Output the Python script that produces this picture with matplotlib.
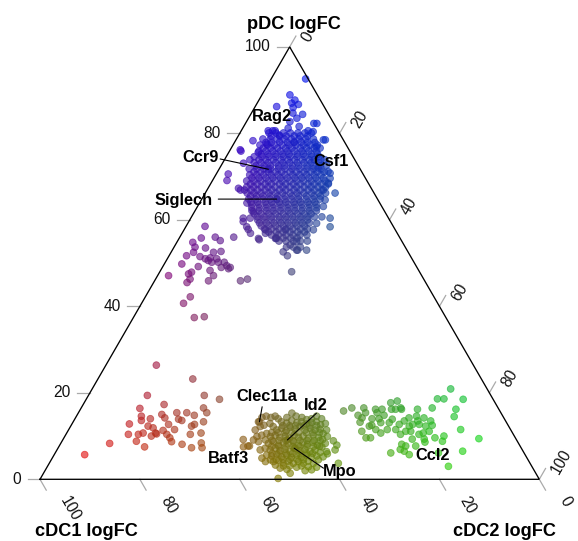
import numpy as np
import matplotlib
matplotlib.use("Agg")
import matplotlib.pyplot as plt

plt.rcParams['font.family'] = ['Liberation Sans', 'DejaVu Sans']

# ---------------- data: (cDC1 logFC, cDC2 logFC, pDC logFC) per gene ----------------
red_genes = [
    (88.2, 6.1, 5.7), (81.9, 9.8, 8.3), (68.8, 11.8, 19.4), (71.8, 11.8, 16.4), (66.5, 16.2, 17.3),
    (57.4, 23.2, 19.4), (59.0, 24.5, 16.5), (75.7, 11.5, 12.8), (72.4, 13.0, 14.6), (72.9, 13.5, 13.6),
    (70.9, 15.1, 14.0), (72.2, 15.5, 12.3), (71.4, 16.7, 11.9), (77.1, 12.5, 10.4), (75.1, 14.5, 10.4),
    (74.0, 15.3, 10.7), (76.3, 14.9, 8.8), (75.3, 17.2, 7.5), (72.7, 17.3, 10.0), (71.4, 18.1, 10.5),
    (68.1, 16.9, 15.0), (67.9, 17.9, 14.2), (67.9, 19.4, 12.7), (69.7, 19.0, 11.3), (69.4, 20.2, 10.4),
    (69.2, 21.2, 9.6), (69.3, 22.0, 8.7), (64.9, 19.7, 15.4), (65.3, 20.8, 13.9), (64.8, 21.6, 13.6),
    (62.9, 21.7, 15.4), (61.7, 23.5, 14.8), (58.9, 25.7, 15.4), (60.6, 26.1, 13.3), (63.5, 24.2, 12.3),
    (62.7, 24.6, 12.7), (64.7, 24.9, 10.4), (62.4, 26.9, 10.7), (67.5, 24.4, 8.1), (66.0, 26.7, 7.3),
    (63.5, 28.1, 8.4), (63.9, 28.8, 7.3), (67.3, 21.2, 11.5), (71.5, 17.8, 10.7), (63.5, 10.1, 26.4),
    (57.8, 19.0, 23.2), (54.8, 26.7, 18.5),
]

green_genes = [
    (31.3, 52.9, 15.8), (29.3, 54.2, 16.5), (28.9, 56.3, 14.8), (28.4, 57.4, 14.2), (26.9, 56.6, 16.5),
    (29.3, 57.5, 13.2), (30.0, 58.9, 11.1), (29.9, 60.5, 9.6), (29.0, 61.4, 9.6), (27.3, 60.2, 12.5),
    (26.5, 59.5, 14.0), (24.7, 59.1, 16.2), (24.8, 59.8, 15.4), (23.4, 60.4, 16.2), (25.1, 60.9, 14.0),
    (23.7, 61.5, 14.8), (20.9, 61.4, 17.7), (19.4, 62.5, 18.1), (21.5, 62.3, 16.2), (20.7, 63.1, 16.2),
    (19.5, 64.3, 16.2), (23.5, 63.4, 13.1), (22.5, 63.6, 13.9), (24.7, 63.8, 11.5), (23.0, 65.5, 11.5),
    (22.6, 67.0, 10.4), (21.7, 65.6, 12.7), (20.3, 66.2, 13.5), (19.0, 66.8, 14.2), (16.3, 67.5, 16.2),
    (17.3, 68.1, 14.6), (19.0, 68.3, 12.7), (20.2, 68.7, 11.1), (17.7, 69.6, 12.7), (16.0, 69.8, 14.2),
    (16.6, 71.1, 12.3), (17.9, 71.4, 10.7), (18.9, 70.7, 10.4), (18.4, 72.3, 9.3), (16.5, 72.4, 11.1),
    (15.2, 72.3, 12.5), (16.1, 74.3, 9.6), (13.2, 70.3, 16.5), (11.1, 70.3, 18.6), (9.8, 71.6, 18.6),
    (7.3, 71.8, 20.9), (6.0, 75.5, 18.5), (8.6, 75.2, 16.2), (9.8, 75.7, 14.5), (10.0, 78.5, 11.5),
    (7.4, 83.2, 9.4), (14.1, 75.9, 10.0), (15.0, 76.2, 8.8), (12.1, 81.4, 6.5), (16.7, 80.3, 3.0),
    (17.2, 76.9, 6.1), (23.2, 71.1, 5.7), (23.8, 69.7, 6.5), (24.4, 68.7, 6.9), (23.5, 68.4, 8.1),
    (22.9, 69.4, 7.7), (26.7, 67.2, 6.1), (25.2, 61.7, 13.1), (27.0, 61.5, 11.5), (26.4, 62.9, 10.7),
    (27.1, 57.5, 15.4), (27.9, 59.8, 12.3), (19.5, 64.0, 16.5), (17.6, 68.9, 13.5), (19.9, 67.8, 12.3),
    (21.2, 67.7, 11.1), (20.8, 69.9, 9.3), (20.9, 71.4, 7.7), (15.0, 71.5, 13.5),
]

purple_genes = [
    (37.7, 3.8, 58.5), (39.8, 4.4, 55.8), (42.0, 3.2, 54.8), (42.1, 4.2, 53.7), (43.0, 4.5, 52.5),
    (44.8, 3.5, 51.7), (46.7, 3.5, 49.8), (42.2, 6.3, 51.5), (41.4, 7.6, 51.0), (41.0, 8.4, 50.6),
    (40.3, 8.5, 51.2), (39.0, 8.5, 52.5), (36.9, 7.1, 56.0), (36.3, 8.5, 55.2), (37.4, 9.9, 52.7),
    (39.1, 9.9, 51.0), (39.2, 10.6, 50.2), (38.0, 11.8, 50.2), (37.9, 12.7, 49.4), (37.4, 13.6, 49.0),
    (37.9, 13.4, 48.7), (41.8, 9.9, 48.3), (41.7, 11.2, 47.1), (43.3, 10.8, 45.9), (43.7, 7.1, 49.2),
    (45.7, 6.4, 47.9), (46.5, 6.0, 47.5), (46.8, 6.9, 46.3), (47.8, 6.7, 45.5), (50.7, 2.2, 47.1),
    (36.9, 17.2, 45.9), (35.3, 18.4, 46.3), (48.8, 9.0, 42.2), (50.9, 8.4, 40.7), (50.4, 12.2, 37.4),
    (48.3, 14.1, 37.6), (40.1, 6.4, 53.5), (40.5, 9.3, 50.2), (39.2, 11.8, 49.0), (33.2, 10.8, 56.0),
]

olive_genes = [
    (49.6, 37.1, 13.3), (48.4, 37.3, 14.3), (47.4, 38.0, 14.6), (46.6, 39.1, 14.3), (45.6, 39.8, 14.6),
    (45.3, 40.7, 14.0), (49.8, 38.0, 12.2), (51.2, 37.4, 11.4), (48.9, 38.6, 12.5), (47.5, 39.6, 12.9),
    (47.2, 40.6, 12.2), (51.6, 38.5, 9.9), (50.5, 39.3, 10.2), (52.7, 38.2, 9.1), (51.9, 39.4, 8.7),
    (49.3, 40.1, 10.6), (50.3, 40.6, 9.1), (54.7, 36.1, 9.2), (54.2, 38.1, 7.7), (55.5, 37.0, 7.5),
    (52.5, 40.7, 6.8), (53.1, 42.0, 4.9), (52.8, 43.1, 4.1), (51.6, 43.9, 4.5), (51.2, 45.5, 3.3),
    (50.6, 46.8, 2.6), (49.4, 48.3, 2.3), (49.2, 49.4, 1.4), (52.2, 47.6, 0.2), (43.4, 42.3, 14.3),
    (41.9, 42.8, 15.3), (41.4, 44.0, 14.6), (40.4, 45.3, 14.3), (39.7, 46.5, 13.8), (38.6, 47.4, 14.0),
    (37.3, 48.1, 14.6), (36.6, 49.4, 14.0), (36.4, 50.7, 12.9), (36.9, 51.7, 11.4), (37.5, 52.6, 9.9),
    (38.7, 53.0, 8.3), (39.8, 52.7, 7.5), (39.4, 54.2, 6.4), (40.7, 54.1, 5.2), (42.0, 53.5, 4.5),
    (43.4, 52.9, 3.7), (44.8, 52.3, 2.9), (45.9, 52.1, 2.0), (44.5, 53.3, 2.2), (43.2, 54.0, 2.8),
    (36.8, 54.3, 8.9), (37.5, 55.7, 6.8), (38.4, 57.9, 3.7), (39.5, 54.6, 5.9), (36.6, 55.5, 7.9),
    # dense core
    (45.0, 41.7, 13.3), (44.1, 42.9, 13.0), (42.8, 43.6, 13.6), (42.0, 44.9, 13.1), (41.0, 45.7, 13.3),
    (40.2, 47.0, 12.8), (39.0, 47.9, 13.1), (38.0, 48.7, 13.3), (37.5, 49.9, 12.6),
    (46.9, 41.7, 11.4), (45.7, 42.5, 11.8), (45.1, 43.7, 11.2), (43.9, 44.1, 12.0), (43.1, 45.3, 11.6),
    (41.8, 46.0, 12.2), (41.2, 47.4, 11.4), (40.0, 48.2, 11.8), (39.2, 49.4, 11.4), (38.1, 50.3, 11.6),
    (38.0, 51.4, 10.6),
    (48.9, 41.2, 9.9), (47.8, 42.0, 10.2), (47.1, 43.2, 9.7), (45.9, 44.1, 10.0), (45.3, 45.2, 9.5),
    (44.0, 45.8, 10.2), (43.4, 46.9, 9.7), (42.3, 47.7, 10.0), (41.5, 49.0, 9.5), (40.2, 49.6, 10.2),
    (39.4, 50.9, 9.7), (38.8, 52.0, 9.2),
    (50.1, 41.6, 8.3), (48.9, 42.4, 8.7), (48.3, 43.8, 7.9), (47.0, 44.5, 8.5), (46.2, 45.6, 8.2),
    (44.9, 46.4, 8.7), (44.3, 47.8, 7.9), (43.1, 48.4, 8.5), (42.4, 49.5, 8.1), (41.1, 50.4, 8.5),
    (40.5, 51.6, 7.9),
    (51.3, 41.5, 7.2), (50.5, 42.7, 6.8), (49.3, 43.5, 7.2), (48.6, 44.8, 6.6), (47.5, 45.6, 6.9),
    (46.7, 46.9, 6.4), (45.3, 47.5, 7.2), (44.6, 48.8, 6.6), (43.5, 49.6, 6.9), (42.7, 50.9, 6.4),
    (41.5, 51.7, 6.8), (40.8, 53.0, 6.2),
    (51.8, 42.6, 5.6), (50.9, 43.7, 5.4), (49.7, 44.5, 5.8), (49.0, 45.8, 5.2), (47.8, 46.6, 5.6),
    (47.1, 47.8, 5.1), (45.8, 48.6, 5.6), (45.1, 49.8, 5.1), (43.8, 50.6, 5.6), (43.1, 51.8, 5.1),
    (41.9, 52.7, 5.4),
    (51.2, 44.7, 4.1), (50.1, 45.6, 4.3), (49.4, 46.8, 3.8), (48.2, 47.6, 4.2), (47.4, 48.9, 3.7),
    (46.2, 49.7, 4.1), (45.4, 50.9, 3.7), (44.2, 51.6, 4.2),
    (49.7, 47.2, 3.1), (48.4, 48.5, 3.1), (47.2, 50.0, 2.8), (46.1, 50.8, 3.1),
    (45.2, 42.4, 12.4), (43.8, 43.8, 12.4), (42.6, 45.0, 12.4), (41.0, 46.6, 12.4), (39.8, 47.8, 12.4),
    (38.4, 49.2, 12.4),
    (48.2, 41.0, 10.8), (46.9, 42.3, 10.8), (45.5, 43.7, 10.8), (44.1, 45.1, 10.8), (42.8, 46.4, 10.8),
    (41.3, 47.9, 10.8), (40.0, 49.2, 10.8), (38.6, 50.6, 10.8),
    (49.0, 42.0, 9.0), (47.6, 43.4, 9.0), (46.2, 44.8, 9.0), (44.8, 46.2, 9.0), (43.4, 47.6, 9.0),
    (42.0, 49.0, 9.0), (40.6, 50.4, 9.0), (39.4, 51.6, 9.0),
    (49.8, 42.6, 7.6), (48.4, 44.0, 7.6), (47.0, 45.4, 7.6), (45.6, 46.8, 7.6), (44.2, 48.2, 7.6),
    (42.8, 49.6, 7.6), (41.4, 51.0, 7.6), (40.2, 52.2, 7.6),
    (50.5, 43.5, 6.0), (49.1, 44.9, 6.0), (47.7, 46.3, 6.0), (46.4, 47.6, 6.0), (45.0, 49.0, 6.0),
    (43.6, 50.4, 6.0), (42.4, 51.6, 6.0),
    (50.4, 45.0, 4.6), (49.0, 46.4, 4.6), (47.6, 47.8, 4.6), (46.2, 49.2, 4.6), (44.9, 50.5, 4.6),
]

blue_edge_genes = [
    (0.5, 6.9, 92.6), (5.5, 5.6, 88.9), (5.1, 7.2, 87.7), (6.1, 6.9, 87.0), (4.9, 8.4, 86.7),
    (6.3, 7.7, 86.0), (5.2, 10.4, 84.4), (9.5, 4.3, 86.2), (7.0, 8.3, 84.7), (6.8, 9.7, 83.5),
    (8.6, 8.7, 82.7), (4.0, 13.7, 82.3), (14.0, 5.4, 80.6), (13.1, 6.3, 80.6), (12.3, 8.1, 79.6),
    (9.7, 9.1, 81.2), (7.3, 11.1, 81.6), (6.0, 13.4, 80.6), (18.2, 3.5, 78.3), (15.8, 6.7, 77.5),
    (3.6, 17.9, 78.5), (6.2, 16.9, 76.9), (21.8, 2.3, 75.9), (18.5, 5.9, 75.6), (27.0, 2.4, 70.6),
    (6.2, 21.1, 72.7), (6.7, 22.1, 71.2), (7.1, 23.3, 69.6),
    (21.8, 2.0, 76.2), (28.0, 2.9, 69.1), (22.7, 4.2, 73.1), (26.6, 6.1, 67.3), (21.0, 5.1, 73.9),
    (26.6, 9.5, 63.9), (26.3, 11.8, 61.9), (27.7, 11.9, 60.4), (29.5, 10.9, 59.6), (29.4, 12.2, 58.4),
    (29.4, 13.7, 56.9), (28.4, 15.9, 55.7), (26.0, 16.3, 57.7), (25.0, 19.3, 55.7), (25.0, 22.4, 52.6),
    (22.8, 23.0, 54.2), (22.1, 24.9, 53.0), (20.1, 26.9, 53.0), (25.6, 26.4, 48.0), (22.0, 20.3, 57.7),
    (21.1, 23.9, 55.0),
    (4.0, 17.5, 78.5), (5.6, 17.8, 76.6), (6.0, 20.1, 73.9), (6.5, 22.7, 70.8), (8.0, 23.5, 68.5),
    (7.8, 26.0, 66.2), (9.8, 23.3, 66.9), (10.6, 24.8, 64.6), (11.7, 25.2, 63.1), (11.7, 27.9, 60.4),
    (12.7, 28.9, 58.4), (13.2, 26.1, 60.7), (15.0, 25.8, 59.2), (16.4, 25.9, 57.7), (3.4, 14.3, 82.3),
    (5.1, 14.5, 80.4),
    (26.4, 6.7, 66.9), (25.6, 7.5, 66.9), (29.1, 10.5, 60.4), (29.4, 12.8, 57.8), (28.4, 16.2, 55.4),
    (26.4, 16.7, 56.9), (24.8, 19.5, 55.7), (24.6, 23.7, 51.7), (21.9, 25.1, 53.0),
]

blue_core_genes = [
    (14.1, 5.8, 80.1), (12.7, 7.2, 80.1), (11.2, 8.7, 80.1), (9.8, 10.1, 80.1), (8.3, 11.6, 80.1),
    (6.9, 13.0, 80.1), (5.6, 14.3, 80.1),
    (16.0, 5.3, 78.7), (14.5, 6.8, 78.7), (13.1, 8.2, 78.7), (11.7, 9.6, 78.7), (10.3, 11.0, 78.7),
    (8.8, 12.5, 78.7), (7.4, 13.9, 78.7), (5.9, 15.4, 78.7),
    (17.3, 5.4, 77.3), (15.8, 6.9, 77.3), (14.4, 8.3, 77.3), (12.9, 9.8, 77.3), (11.5, 11.2, 77.3),
    (10.1, 12.6, 77.3), (8.6, 14.1, 77.3), (7.2, 15.5, 77.3), (5.8, 16.9, 77.3),
    (18.2, 5.9, 75.9), (16.8, 7.3, 75.9), (15.4, 8.7, 75.9), (13.9, 10.2, 75.9), (12.5, 11.6, 75.9),
    (11.1, 13.0, 75.9), (9.6, 14.5, 75.9), (8.2, 15.9, 75.9), (6.7, 17.4, 75.9),
    (19.8, 5.6, 74.6), (18.3, 7.1, 74.6), (16.9, 8.5, 74.6), (15.5, 9.9, 74.6), (14.0, 11.4, 74.6),
    (12.6, 12.8, 74.6), (11.2, 14.2, 74.6), (9.7, 15.7, 74.6), (8.3, 17.1, 74.6), (6.9, 18.5, 74.6),
    (20.5, 6.3, 73.2), (19.1, 7.7, 73.2), (17.7, 9.1, 73.2), (16.2, 10.6, 73.2), (14.8, 12.0, 73.2),
    (13.4, 13.4, 73.2), (11.9, 14.9, 73.2), (10.5, 16.3, 73.2), (9.1, 17.7, 73.2), (7.6, 19.2, 73.2),
    (22.2, 6.0, 71.8), (20.7, 7.5, 71.8), (19.3, 8.9, 71.8), (17.9, 10.3, 71.8), (16.4, 11.8, 71.8),
    (15.0, 13.2, 71.8), (13.6, 14.6, 71.8), (12.1, 16.1, 71.8), (10.7, 17.5, 71.8), (9.3, 18.9, 71.8),
    (7.8, 20.4, 71.8),
    (22.8, 6.8, 70.4), (21.4, 8.2, 70.4), (20.0, 9.6, 70.4), (18.5, 11.1, 70.4), (17.1, 12.5, 70.4),
    (15.7, 13.9, 70.4), (14.2, 15.4, 70.4), (12.8, 16.8, 70.4), (11.4, 18.2, 70.4), (9.9, 19.7, 70.4),
    (8.5, 21.1, 70.4),
    (24.1, 6.9, 69.0), (22.7, 8.3, 69.0), (21.3, 9.7, 69.0), (19.8, 11.2, 69.0), (18.4, 12.6, 69.0),
    (17.0, 14.0, 69.0), (15.5, 15.5, 69.0), (14.1, 16.9, 69.0), (12.7, 18.3, 69.0), (11.2, 19.8, 69.0),
    (9.8, 21.2, 69.0), (8.4, 22.6, 69.0),
    (24.8, 7.6, 67.6), (23.4, 9.0, 67.6), (21.9, 10.5, 67.6), (20.5, 11.9, 67.6), (19.1, 13.3, 67.6),
    (17.6, 14.8, 67.6), (16.2, 16.2, 67.6), (14.8, 17.6, 67.6), (13.3, 19.1, 67.6), (11.9, 20.5, 67.6),
    (10.5, 21.9, 67.6), (9.0, 23.4, 67.6),
    (25.4, 8.4, 66.2), (24.0, 9.8, 66.2), (22.6, 11.2, 66.2), (21.1, 12.7, 66.2), (19.7, 14.1, 66.2),
    (18.3, 15.5, 66.2), (16.8, 17.0, 66.2), (15.4, 18.4, 66.2), (14.0, 19.8, 66.2), (12.5, 21.3, 66.2),
    (11.1, 22.7, 66.2), (9.7, 24.1, 66.2),
    (25.8, 9.4, 64.8), (24.4, 10.8, 64.8), (22.9, 12.3, 64.8), (21.5, 13.7, 64.8), (20.1, 15.1, 64.8),
    (18.6, 16.6, 64.8), (17.2, 18.0, 64.8), (15.8, 19.4, 64.8), (14.3, 20.9, 64.8), (12.9, 22.3, 64.8),
    (11.5, 23.7, 64.8),
    (25.8, 10.7, 63.5), (24.4, 12.1, 63.5), (22.9, 13.6, 63.5), (21.5, 15.0, 63.5), (20.1, 16.4, 63.5),
    (18.6, 17.9, 63.5), (17.2, 19.3, 63.5), (15.8, 20.7, 63.5), (14.3, 22.2, 63.5), (12.9, 23.6, 63.5),
    (26.5, 11.4, 62.1), (25.1, 12.8, 62.1), (23.6, 14.3, 62.1), (22.2, 15.7, 62.1), (20.8, 17.1, 62.1),
    (19.3, 18.6, 62.1), (17.9, 20.0, 62.1), (16.5, 21.4, 62.1), (15.0, 22.9, 62.1), (13.6, 24.3, 62.1),
    (26.1, 13.2, 60.7), (24.7, 14.6, 60.7), (23.3, 16.0, 60.7), (21.8, 17.5, 60.7), (20.4, 18.9, 60.7),
    (19.0, 20.3, 60.7), (17.5, 21.8, 60.7), (16.1, 23.2, 60.7), (14.7, 24.6, 60.7),
    (26.4, 14.3, 59.3), (25.0, 15.7, 59.3), (23.5, 17.2, 59.3), (22.1, 18.6, 59.3), (20.7, 20.0, 59.3),
    (19.2, 21.5, 59.3), (17.8, 22.9, 59.3), (16.4, 24.3, 59.3),
    (26.1, 16.0, 57.9), (24.7, 17.4, 57.9), (23.2, 18.9, 57.9), (21.8, 20.3, 57.9), (20.4, 21.7, 57.9),
    (18.9, 23.2, 57.9), (17.5, 24.6, 57.9),
    (25.4, 18.1, 56.5), (24.0, 19.5, 56.5), (22.5, 21.0, 56.5), (21.1, 22.4, 56.5), (19.7, 23.8, 56.5),
    (18.3, 25.2, 56.5),
    (24.6, 20.3, 55.1), (23.2, 21.7, 55.1), (21.7, 23.2, 55.1), (20.3, 24.6, 55.1), (18.9, 26.0, 55.1),
    (23.8, 22.5, 53.7), (22.4, 23.9, 53.7), (21.0, 25.3, 53.7),
    (13.0, 9.0, 78.0), (10.1, 11.9, 78.0), (8.7, 13.3, 78.0),
    (16.3, 9.8, 73.9), (13.4, 12.7, 73.9), (10.5, 15.6, 73.9), (8.1, 18.0, 73.9),
    (19.9, 10.4, 69.7), (17.0, 13.3, 69.7), (14.1, 16.2, 69.7), (11.3, 19.0, 69.7), (8.4, 21.9, 69.7),
    (22.6, 11.9, 65.5), (19.7, 14.8, 65.5), (16.8, 17.7, 65.5), (13.9, 20.6, 65.5),
    (23.5, 15.1, 61.4), (20.6, 18.0, 61.4), (17.7, 20.9, 61.4),
]

blue_inner_genes = [
    (14.0, 6.6, 79.4), (12.3, 8.3, 79.4), (11.0, 9.6, 79.4), (9.4, 11.2, 79.4), (8.2, 12.4, 79.4),
    (6.7, 13.9, 79.4),
    (15.8, 6.3, 77.9), (14.7, 7.4, 77.9), (11.5, 10.6, 77.9), (10.1, 12.0, 77.9), (7.5, 14.6, 77.9),
    (6.0, 16.1, 77.9),
    (17.0, 6.4, 76.6), (15.5, 7.9, 76.6), (14.1, 9.3, 76.6), (12.5, 10.9, 76.6), (11.2, 12.2, 76.6),
    (9.6, 13.8, 76.6), (8.3, 15.1, 76.6), (6.8, 16.6, 76.6),
    (18.1, 6.7, 75.2), (16.7, 8.1, 75.2), (15.2, 9.6, 75.2), (13.8, 11.0, 75.2), (12.5, 12.3, 75.2),
    (10.9, 13.9, 75.2), (9.6, 15.2, 75.2), (8.1, 16.7, 75.2), (6.8, 18.0, 75.2),
    (19.2, 6.9, 73.9), (17.8, 8.3, 73.9), (14.8, 11.3, 73.9), (12.0, 14.1, 73.9), (9.1, 17.0, 73.9),
    (6.8, 19.3, 73.9),
    (20.5, 7.0, 72.5), (18.9, 8.6, 72.5), (17.6, 9.9, 72.5), (16.0, 11.5, 72.5), (14.7, 12.8, 72.5),
    (13.2, 14.3, 72.5), (11.9, 15.6, 72.5), (10.3, 17.2, 72.5), (9.0, 18.5, 72.5), (7.6, 19.9, 72.5),
    (21.6, 7.3, 71.1), (20.2, 8.7, 71.1), (18.7, 10.2, 71.1), (17.3, 11.6, 71.1), (16.0, 12.9, 71.1),
    (14.4, 14.5, 71.1), (13.1, 15.8, 71.1), (11.6, 17.3, 71.1), (10.2, 18.7, 71.1), (8.9, 20.0, 71.1),
    (7.5, 21.4, 71.1),
    (22.7, 7.6, 69.7), (21.3, 9.0, 69.7), (18.5, 11.8, 69.7), (15.6, 14.7, 69.7), (12.7, 17.6, 69.7),
    (9.9, 20.4, 69.7),
    (23.7, 8.0, 68.3), (22.3, 9.4, 68.3), (20.8, 10.9, 68.3), (19.5, 12.2, 68.3), (17.9, 13.8, 68.3),
    (16.6, 15.1, 68.3), (15.1, 16.6, 68.3), (13.7, 18.0, 68.3), (12.2, 19.5, 68.3), (10.9, 20.8, 68.3),
    (9.5, 22.2, 68.3), (8.1, 23.6, 68.3),
    (24.3, 8.8, 66.9), (23.0, 10.1, 66.9), (21.5, 11.6, 66.9), (20.1, 13.0, 66.9), (18.6, 14.5, 66.9),
    (17.3, 15.8, 66.9), (15.7, 17.4, 66.9), (14.4, 18.7, 66.9), (12.9, 20.2, 66.9), (11.6, 21.5, 66.9),
    (10.1, 23.0, 66.9),
    (25.1, 9.4, 65.5), (23.9, 10.6, 65.5), (21.2, 13.3, 65.5), (18.2, 16.3, 65.5), (15.4, 19.1, 65.5),
    (12.4, 22.1, 65.5), (11.1, 23.4, 65.5),
    (25.7, 10.2, 64.1), (24.4, 11.5, 64.1), (22.8, 13.1, 64.1), (21.5, 14.4, 64.1), (20.0, 15.9, 64.1),
    (18.7, 17.2, 64.1), (17.1, 18.8, 64.1), (15.8, 20.1, 64.1), (14.3, 21.6, 64.1), (12.9, 23.0, 64.1),
    (26.2, 11.0, 62.8), (24.7, 12.5, 62.8), (23.3, 13.9, 62.8), (21.9, 15.3, 62.8), (20.4, 16.8, 62.8),
    (19.0, 18.2, 62.8), (17.6, 19.6, 62.8), (16.1, 21.1, 62.8), (14.7, 22.5, 62.8), (13.2, 24.0, 62.8),
    (26.4, 12.2, 61.4), (25.0, 13.6, 61.4), (22.1, 16.5, 61.4), (19.2, 19.4, 61.4), (16.3, 22.3, 61.4),
    (15.0, 23.6, 61.4),
    (26.4, 13.6, 60.0), (25.0, 15.0, 60.0), (23.6, 16.4, 60.0), (22.1, 17.9, 60.0), (20.7, 19.3, 60.0),
    (19.2, 20.8, 60.0), (17.8, 22.2, 60.0), (16.4, 23.6, 60.0),
    (26.4, 15.0, 58.6), (24.9, 16.5, 58.6), (23.5, 17.9, 58.6), (22.0, 19.4, 58.6), (20.6, 20.8, 58.6),
    (19.2, 22.2, 58.6), (17.7, 23.7, 58.6),
    (25.6, 17.2, 57.2), (24.1, 18.7, 57.2), (22.7, 20.1, 57.2), (21.3, 21.5, 57.2), (19.8, 23.0, 57.2),
    (18.4, 24.4, 57.2),
    (24.8, 19.4, 55.8), (23.4, 20.8, 55.8), (21.9, 22.3, 55.8), (20.6, 23.6, 55.8),
]

label_names = ["Rag2", "Ccr9", "Csf1", "Siglech", "Clec11a", "Id2", "Batf3", "Mpo", "Ccl2"]
label_cdc1 = [12.6, 18.4, 8.3, 20.2, 49.4, 45.9, 54.5, 45.5, 18.6]
label_cdc2 = [6.8, 9.9, 19.7, 15.0, 37.3, 45.0, 37.8, 47.3, 72.8]
label_pdc = [80.6, 71.7, 72.0, 64.8, 13.3, 9.1, 7.7, 7.2, 8.6]

tick_values = [0, 20, 40, 60, 80, 100]
tick_labels = ["0", "20", "40", "60", "80", "100"]

# ---------------- layout (pixel offsets of label texts / leader-line starts) ----------------
label_text_offset = {
    "Rag2": (-3.3, 14.3), "Ccr9": (-67.6, 11.8), "Csf1": (13.0, 6.3), "Siglech": (-93.4, -1.0),
    "Clec11a": (7.5, 25.7), "Id2": (28.8, 34.0), "Batf3": (-19.5, -12.5), "Mpo": (46.0, -23.2),
    "Ccl2": (7.5, -13.0),
}
label_line_offset = {
    "Ccr9": (-48.3, 10.3), "Siglech": (-58.4, 0.0), "Clec11a": (2.7, 15.0),
    "Id2": (29.0, 26.7), "Mpo": (29.3, -20.0),
}

SQ = np.sqrt(3) / 2


def tern_xy(c1, c2, p):
    c1, c2, p = (np.asarray(v, dtype=float) for v in (c1, c2, p))
    s = c1 + c2 + p
    return 100 * (c2 + p / 2) / s, 100 * p * SQ / s


def tern_rgb(c1, c2, p):
    arr = np.column_stack([c1, c2, p]).astype(float)
    arr = arr / arr.sum(axis=1, keepdims=True)
    return np.clip(arr, 0, 1)


fig = plt.figure(figsize=(5.78, 5.41), dpi=100)
ax = fig.add_axes([0, 0, 1, 1])
PX = 4.993  # pixels per ternary unit
ax.set_xlim(-40 / PX, (578 - 40) / PX)
ax.set_ylim(-(541 - 479.3) / PX, 479.3 / PX)
ax.axis("off")

# triangle
ax.plot([0, 100, 50, 0], [0, 0, 100 * SQ, 0], color="black", lw=0.95, zorder=3,
        solid_joinstyle="miter")

# points
all_pts = (red_genes + olive_genes + green_genes + purple_genes + blue_edge_genes
           + blue_core_genes + blue_inner_genes)
c1 = np.array([t[0] for t in all_pts])
c2 = np.array([t[1] for t in all_pts])
pd = np.array([t[2] for t in all_pts])
xs, ys = tern_xy(c1, c2, pd)
MS = 24
cols = tern_rgb(c1, c2, pd)
ax.scatter(xs, ys, s=MS, c=cols, edgecolors=cols, alpha=0.62, linewidths=0.6, zorder=2)

lx, ly = tern_xy(label_cdc1, label_cdc2, label_pdc)
lcols = tern_rgb(label_cdc1, label_cdc2, label_pdc)
ax.scatter(lx, ly, s=MS, c=lcols, edgecolors=lcols, alpha=0.62, linewidths=0.6, zorder=2)

# ticks
tick_len = 12.5 / PX
tick_col = "#aaaaaa"
tick_fs = 11.2
for v, lab in zip(tick_values, tick_labels):
    # left axis: pDC
    ex, ey = v / 2, v * SQ
    ax.plot([ex, ex - tick_len], [ey, ey], color=tick_col, lw=0.9, zorder=1)
    ax.text(ex - 19.2 / PX, ey, lab, ha="right", va="center", fontsize=tick_fs, color="#111111")
    # bottom axis: cDC1
    ex, ey = 100 - v, 0
    ax.plot([ex, ex + tick_len * 0.5], [ey, ey - tick_len * SQ], color=tick_col, lw=0.9, zorder=1)
    ax.text(ex + 24.0 / PX, ey - 18.4 / PX, lab, rotation=-60, rotation_mode="anchor",
            ha="left", va="center", fontsize=tick_fs, color="#111111")
    # right axis: cDC2
    ex, ey = 50 + v / 2, (100 - v) * SQ
    ax.plot([ex, ex + tick_len * 0.5], [ey, ey + tick_len * SQ], color=tick_col, lw=0.9, zorder=1)
    ax.text(ex + 15.7 / PX, ey + 6.6 / PX, lab, rotation=60, rotation_mode="anchor",
            ha="left", va="center", fontsize=tick_fs, color="#111111")

# axis titles
ax.text(50.8, (479.3 - 29.3) / PX, "pDC logFC", ha="center", va="baseline",
        fontsize=13.1, fontweight="bold")
ax.text(9.35, (479.3 - 535.5) / PX, "cDC1 logFC", ha="center", va="baseline",
        fontsize=13.1, fontweight="bold")
ax.text(93.1, (479.3 - 535.5) / PX, "cDC2 logFC", ha="center", va="baseline",
        fontsize=13.1, fontweight="bold")

# gene labels
for name, x0, y0 in zip(label_names, lx, ly):
    if name in label_line_offset:
        ax.annotate("", xy=(x0, y0), xytext=label_line_offset[name], textcoords="offset pixels",
                    arrowprops=dict(arrowstyle="-", color="black", lw=0.8, shrinkA=0, shrinkB=0),
                    zorder=4)
    ax.annotate(name, xy=(x0, y0), xytext=label_text_offset[name], textcoords="offset pixels",
                ha="center", va="center", fontsize=11.8, fontweight="bold", zorder=5)

fig.savefig("out.png", dpi=100)
